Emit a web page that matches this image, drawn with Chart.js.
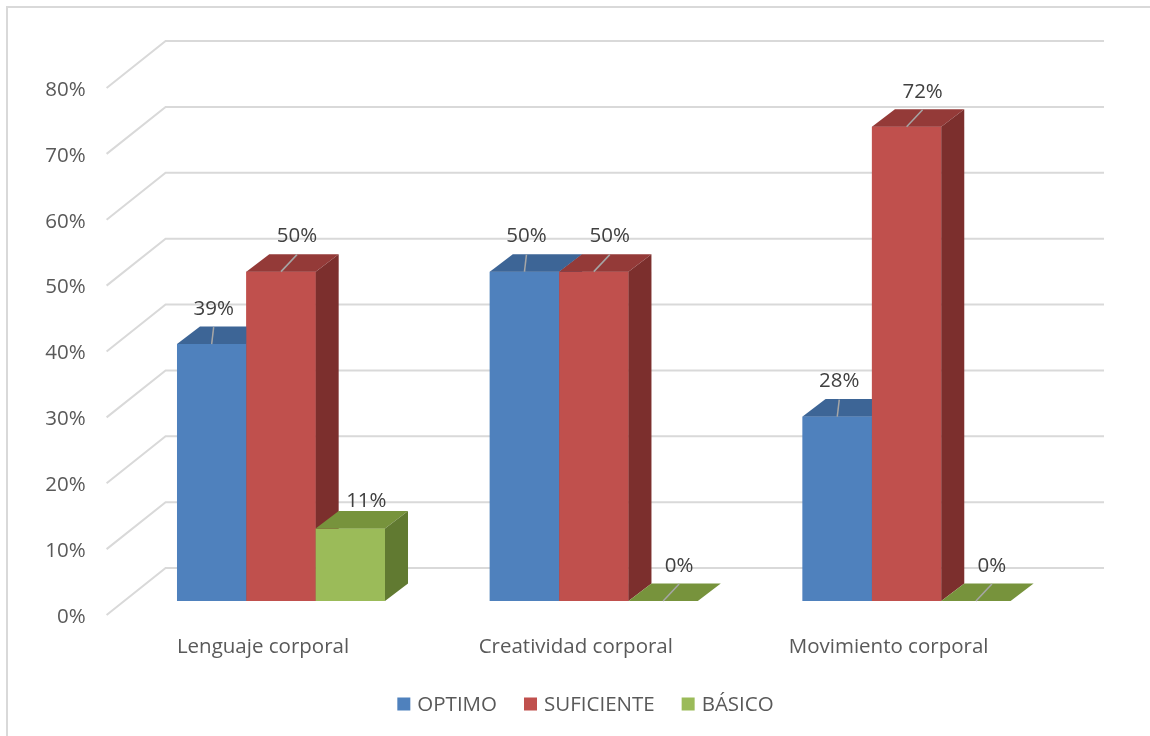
<!DOCTYPE html>
<html>
<head>
<meta charset="utf-8">
<script src="https://cdn.jsdelivr.net/npm/chart.js@4/dist/chart.umd.min.js"></script>
<style>
html,body{margin:0;padding:0;background:#fff;}
canvas{display:block;}
</style>
</head>
<body>
<canvas id="c" width="1150" height="736"></canvas>
<script>
const categories = ['Lenguaje corporal', 'Creatividad corporal', 'Movimiento corporal'];
const seriesNames = ['OPTIMO', 'SUFICIENTE', 'BÁSICO'];
const optimo = [39, 50, 28];
const suficiente = [50, 50, 72];
const basico = [11, 0, 0];
const yMin = 0, yMax = 80, yStep = 10;

const FONT = '"Open Sans", "Noto Sans", sans-serif';
const FONT_SIZE = 20.5;
const faces = [
  {front: '#4F81BD', top: '#3D6596', side: '#375B87'},
  {front: '#C0504D', top: '#943A38', side: '#7C2F2D'},
  {front: '#9BBB59', top: '#77933C', side: '#617A31'}
];
const labelLean = [2, 16, 16];
const DEPTH = {dx: 23, dy: 17.5};     // bar depth
const FLOOR = {dx: 18, dy: 14};       // front edge of floor relative to bar front plane
const WALL = {dx: 41, dy: 33};        // back wall relative to bar front plane

const threeD = {
  id: 'threeD',
  beforeDatasetsDraw(chart) {
    const ctx = chart.ctx;
    const ys = chart.scales.y, xs = chart.scales.x;
    const ca = chart.chartArea;
    ctx.save();
    ctx.strokeStyle = '#D9D9D9';
    ctx.lineWidth = 2;
    ctx.strokeRect(7, 7, 1200, 800);
    ctx.strokeStyle = '#D9D9D9';
    ctx.lineWidth = 2;
    ctx.font = FONT_SIZE + 'px ' + FONT;
    ctx.fillStyle = '#595959';
    ctx.textAlign = 'right';
    ctx.textBaseline = 'middle';
    const ticks = (ys.ticks && ys.ticks.length) ? ys.ticks.map(t => t.value) : [];
    for (const v of ticks) {
      const y = ys.getPixelForValue(v);
      ctx.beginPath();
      ctx.moveTo(ca.left - FLOOR.dx, y + FLOOR.dy);
      ctx.lineTo(ca.left + WALL.dx, y - WALL.dy);
      ctx.lineTo(ca.right + WALL.dx, y - WALL.dy);
      ctx.stroke();
      ctx.fillText(v + '%', ca.left - FLOOR.dx - 21, y + FLOOR.dy + 2);
    }
    ctx.textAlign = 'center';
    categories.forEach((c, i) => {
      const x = xs.getPixelForValue(i);
      ctx.fillText(c, x - FLOOR.dx, ys.getPixelForValue(yMin) + 46);
    });
    const sq = 13, gapIn = 7, gapOut = 27;
    const widths = seriesNames.map(n => ctx.measureText(n).width);
    let total = 0;
    widths.forEach((w, i) => { total += sq + gapIn + w + (i < widths.length - 1 ? gapOut : 0); });
    let lx = 585.5 - total / 2;
    const ly = 704;
    ctx.textAlign = 'left';
    seriesNames.forEach((n, i) => {
      ctx.fillStyle = faces[i].front;
      ctx.fillRect(lx, ly - sq / 2, sq, sq);
      ctx.fillStyle = '#595959';
      ctx.fillText(n, lx + sq + gapIn, ly + 1);
      lx += sq + gapIn + widths[i] + gapOut;
    });
    ctx.restore();
  },
  afterDatasetsDraw(chart) {
    const ctx = chart.ctx;
    const n = chart.data.labels.length;
    const dsCount = chart.data.datasets.length;
    ctx.save();
    for (let j = 0; j < n; j++) {
      for (let i = 0; i < dsCount; i++) {
        const el = chart.getDatasetMeta(i).data[j];
        const w = el.width, l = el.x - w / 2, r = el.x + w / 2;
        const top = el.y, base = el.base;
        const f = faces[i];
        ctx.fillStyle = f.front;
        ctx.fillRect(l, top, w, base - top);
        ctx.fillStyle = f.top;
        ctx.beginPath();
        ctx.moveTo(l, top); ctx.lineTo(r, top);
        ctx.lineTo(r + DEPTH.dx, top - DEPTH.dy); ctx.lineTo(l + DEPTH.dx, top - DEPTH.dy);
        ctx.closePath(); ctx.fill();
        if (base - top > 0.5) {
          ctx.fillStyle = f.side;
          ctx.beginPath();
          ctx.moveTo(r, top); ctx.lineTo(r + DEPTH.dx, top - DEPTH.dy);
          ctx.lineTo(r + DEPTH.dx, base - DEPTH.dy); ctx.lineTo(r, base);
          ctx.closePath(); ctx.fill();
        }
      }
    }
    ctx.font = FONT_SIZE + 'px ' + FONT;
    ctx.textAlign = 'center';
    ctx.textBaseline = 'middle';
    for (let i = 0; i < dsCount; i++) {
      const data = chart.data.datasets[i].data;
      chart.getDatasetMeta(i).data.forEach((el, j) => {
        const cx = el.x, top = el.y;
        const ex = cx + labelLean[i];
        const shortBar = i === 2 && (el.base - top) > 0.5;
        const lift = shortBar ? 27 : 35;
        if (!shortBar) {
          ctx.strokeStyle = '#A6A6A6';
          ctx.lineWidth = 1.5;
          ctx.beginPath();
          ctx.moveTo(cx, top); ctx.lineTo(ex, top - 17);
          ctx.stroke();
        }
        ctx.fillStyle = '#404040';
        ctx.fillText(data[j] + '%', ex, top - lift);
      });
    }
    ctx.restore();
  }
};

new Chart(document.getElementById('c'), {
  type: 'bar',
  data: {
    labels: categories,
    datasets: [
      {label: seriesNames[0], data: optimo, backgroundColor: faces[0].front, borderWidth: 0},
      {label: seriesNames[1], data: suficiente, backgroundColor: faces[1].front, borderWidth: 0},
      {label: seriesNames[2], data: basico, backgroundColor: faces[2].front, borderWidth: 0}
    ]
  },
  options: {
    responsive: false,
    animation: false,
    devicePixelRatio: 1,
    layout: {padding: {left: 124.6, right: 87, top: 74, bottom: 135}},
    categoryPercentage: 0.665,
    barPercentage: 1,
    scales: {
      x: {display: false},
      y: {display: false, min: yMin, max: yMax, ticks: {stepSize: yStep}}
    },
    plugins: {legend: {display: false}, tooltip: {enabled: false}}
  },
  plugins: [threeD]
});
</script>
</body>
</html>
